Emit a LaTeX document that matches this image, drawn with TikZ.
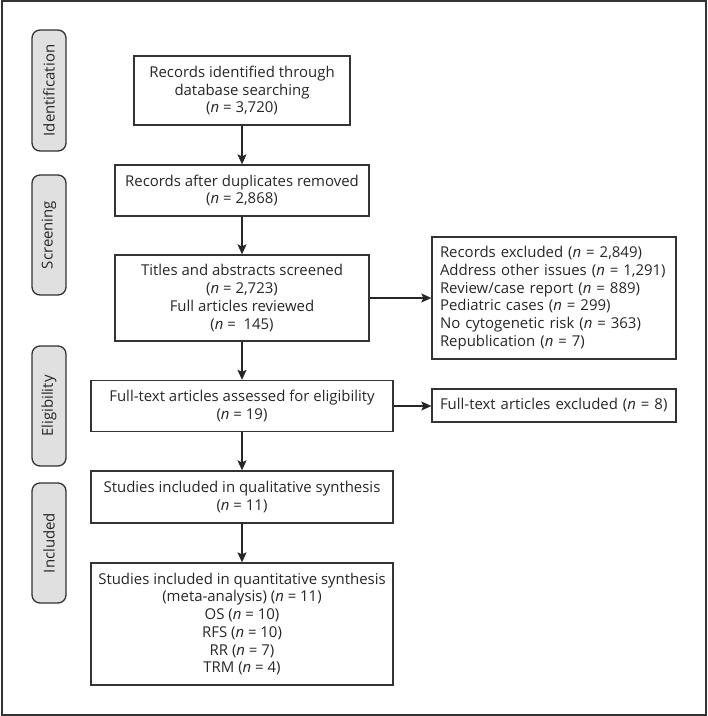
\documentclass[tikz,border=0pt]{standalone}
\usepackage{fontspec}
\setmainfont{Open Sans}
\usetikzlibrary{arrows.meta}
\newcommand{\nn}{\textit{n}}
\begin{document}
\begin{tikzpicture}[x=1bp,y=-1bp,
  txt/.style={font=\fontsize{15}{17.8}\selectfont, text=black!85},
  box/.style={txt, draw=black!80, line width=1.3bp, align=center, inner sep=0pt},
  lbox/.style={box, align=left, text width=228bp, minimum width=244bp},
  stage/.style={txt, draw=black!80, fill=black!12, line width=1.3bp, rounded corners=8bp,
    minimum height=34bp, inner sep=0pt, rotate=90},
  arr/.style={-{Stealth[length=10bp,width=9bp,inset=2bp]}, line width=1.3bp, draw=black!85}]
\useasboundingbox (0,0) rectangle (708,716);
\draw[line width=2bp, black!80] (2,1.5) rectangle (706,715);

\node[stage, minimum width=121bp] (s1) at (49,90.5) {Identification};
\node[stage, minimum width=120bp] (s2) at (49,235) {Screening};
\node[stage, minimum width=120bp] (s3) at (49,406) {Eligibility};
\node[stage, minimum width=120bp] (s4) at (49,543) {Included};

\node[box, minimum width=216bp, minimum height=69bp] (b1) at (242,90.5)
  {Records identified through\\database searching\\(\nn{} = 3,720)};
\node[box, minimum width=254bp, minimum height=51bp] (b2) at (242,190.5)
  {Records after duplicates removed\\(\nn{} = 2,868)};
\node[box, minimum width=254bp, minimum height=86bp] (b3) at (242,298)
  {Titles and abstracts screened\\(\nn{} = 2,723)\\Full articles reviewed\\(\nn{} = \ 145)};
\node[box, minimum width=302bp, minimum height=51bp] (b4) at (242,406)
  {Full-text articles assessed for eligibility\\(\nn{} = 19)};
\node[box, minimum width=302bp, minimum height=52bp] (b5) at (242,497)
  {Studies included in qualitative synthesis\\(\nn{} = 11)};
\node[box, minimum width=302bp, minimum height=122bp] (b6) at (242,624)
  {Studies included in quantitative synthesis\\(meta-analysis) (\nn{} = 11)\\OS (\nn{} = 10)\\RFS (\nn{} = 10)\\RR (\nn{} = 7)\\TRM (\nn{} = 4)};
\node[lbox, minimum height=122bp] (b7) at (554,298)
  {Records excluded (\nn{} = 2,849)\\Address other issues (\nn{} = 1,291)\\Review/case report (\nn{} = 889)\\Pediatric cases (\nn{} = 299)\\No cytogenetic risk (\nn{} = 363)\\Republication (\nn{} = 7)};
\node[lbox, minimum height=33bp] (b8) at (554,405.5)
  {Full-text articles excluded (\nn{} = 8)};

\draw[arr] (b1.south) -- (b2.north);
\draw[arr] (b2.south) -- (b3.north);
\draw[arr] (b3.south) -- (b4.north);
\draw[arr] (b4.south) -- (b5.north);
\draw[arr] (b5.south) -- (b6.north);
\draw[arr] (b3.east) -- (b7.west);
\draw[arr] (b4.east) -- (b4.east -| b8.west);
\end{tikzpicture}
\end{document}
